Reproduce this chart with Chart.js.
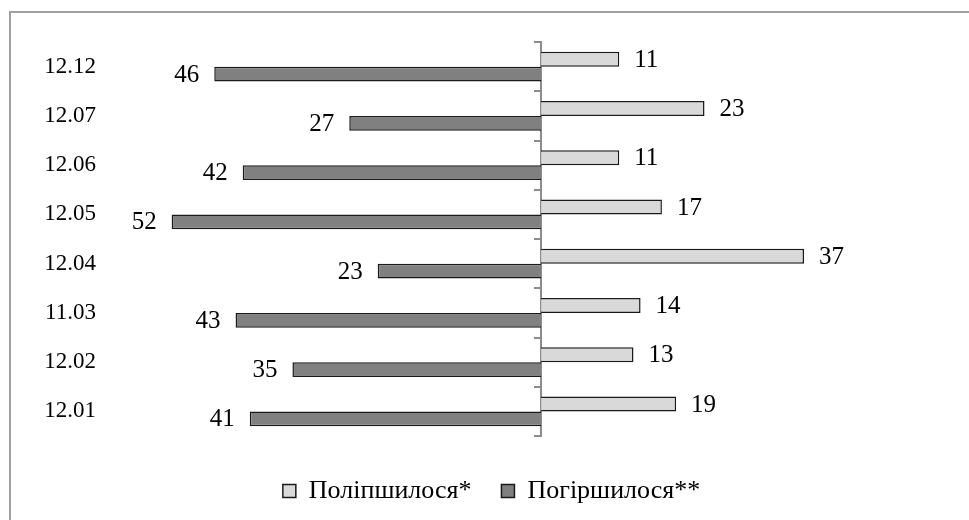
<!DOCTYPE html>
<html lang="uk">

<head>
    <meta charset="UTF-8">
    <title>Поліпшилося / Погіршилося</title>
    <script src="https://cdn.jsdelivr.net/npm/chart.js"></script>
    <style>
        body {
            margin: 0;
            background: #ffffff;
            overflow: hidden;
        }

        .frame {
            position: absolute;
            left: 9px;
            top: 11px;
            width: 1100px;
            height: 700px;
            border: 2px solid #a0a0a0;
        }

        .wrap {
            position: absolute;
            left: 0;
            top: 0;
            width: 969px;
            height: 520px;
        }
    </style>
</head>

<body>
    <div class="frame"></div>
    <div class="wrap"><canvas id="chart"></canvas></div>

    <script>
        // Дані (згори донизу)
        const categories = ['12.12', '12.07', '12.06', '12.05', '12.04', '11.03', '12.02', '12.01'];
        const improved = [11, 23, 11, 17, 37, 14, 13, 19];
        const worsened = [46, 27, 42, 52, 23, 43, 35, 41];

        const fontFamily = '"Liberation Serif", "Times New Roman", serif';

        // Підписи значень біля кінців смуг
        const valueLabels = {
            id: 'valueLabels',
            afterDatasetsDraw(chart) {
                const ctx = chart.ctx;
                ctx.save();
                ctx.font = '25px ' + fontFamily;
                ctx.fillStyle = '#000';
                ctx.textBaseline = 'middle';
                chart.data.datasets.forEach((ds, di) => {
                    const meta = chart.getDatasetMeta(di);
                    meta.data.forEach((bar, i) => {
                        const v = ds.data[i];
                        if (v >= 0) {
                            ctx.textAlign = 'left';
                            ctx.fillText(Math.abs(v), bar.x + 15, bar.y + 1);
                        } else {
                            ctx.textAlign = 'right';
                            ctx.fillText(Math.abs(v), bar.x - 15, bar.y + 1);
                        }
                    });
                });
                ctx.restore();
            }
        };

        function draw() {
            new Chart(document.getElementById('chart'), {
                type: 'bar',
                data: {
                    labels: categories,
                    datasets: [{
                        label: 'Поліпшилося*',
                        data: improved,
                        backgroundColor: '#d9d9d9',
                        borderColor: '#1a1a1a',
                        borderWidth: 1.5
                    }, {
                        label: 'Погіршилося**',
                        data: worsened.map(v => -v),
                        backgroundColor: '#808080',
                        borderColor: '#1a1a1a',
                        borderWidth: 1.5
                    }]
                },
                options: {
                    indexAxis: 'y',
                    responsive: true,
                    maintainAspectRatio: false,
                    animation: false,
                    categoryPercentage: 0.6,
                    barPercentage: 1,
                    layout: {
                        padding: { left: 44, right: 30, top: 42, bottom: 6 }
                    },
                    scales: {
                        x: {
                            min: -58,
                            max: 56,
                            ticks: { display: false },
                            grid: { display: false },
                            border: { display: false },
                            afterFit(scale) { scale.height = 12; }
                        },
                        y: {
                            ticks: {
                                color: '#000',
                                padding: 33,
                                font: { family: fontFamily, size: 23 }
                            },
                            grid: { display: false, drawTicks: false },
                            border: { display: false },
                            afterFit(scale) {
                                scale.width = 85;
                                scale.paddingTop = 0;
                                scale.paddingBottom = 0;
                            }
                        },
                        y2: {
                            type: 'category',
                            labels: categories,
                            position: { x: 0 },
                            offset: true,
                            ticks: { display: false },
                            grid: {
                                offset: true,
                                drawOnChartArea: false,
                                tickLength: 6,
                                color: '#8c8c8c',
                                lineWidth: 2
                            },
                            border: { display: true, color: '#8c8c8c', width: 2 }
                        }
                    },
                    plugins: {
                        legend: {
                            position: 'bottom',
                            labels: {
                                color: '#000',
                                boxWidth: 13,
                                boxHeight: 13,
                                padding: 30,
                                font: { family: fontFamily, size: 26 }
                            }
                        },
                        tooltip: { enabled: false }
                    }
                },
                plugins: [valueLabels]
            });
        }

        // чекаємо на шрифт, щоб canvas не взяв запасний
        document.fonts.load('23px "Liberation Serif"').then(draw, draw);
    </script>
</body>

</html>
